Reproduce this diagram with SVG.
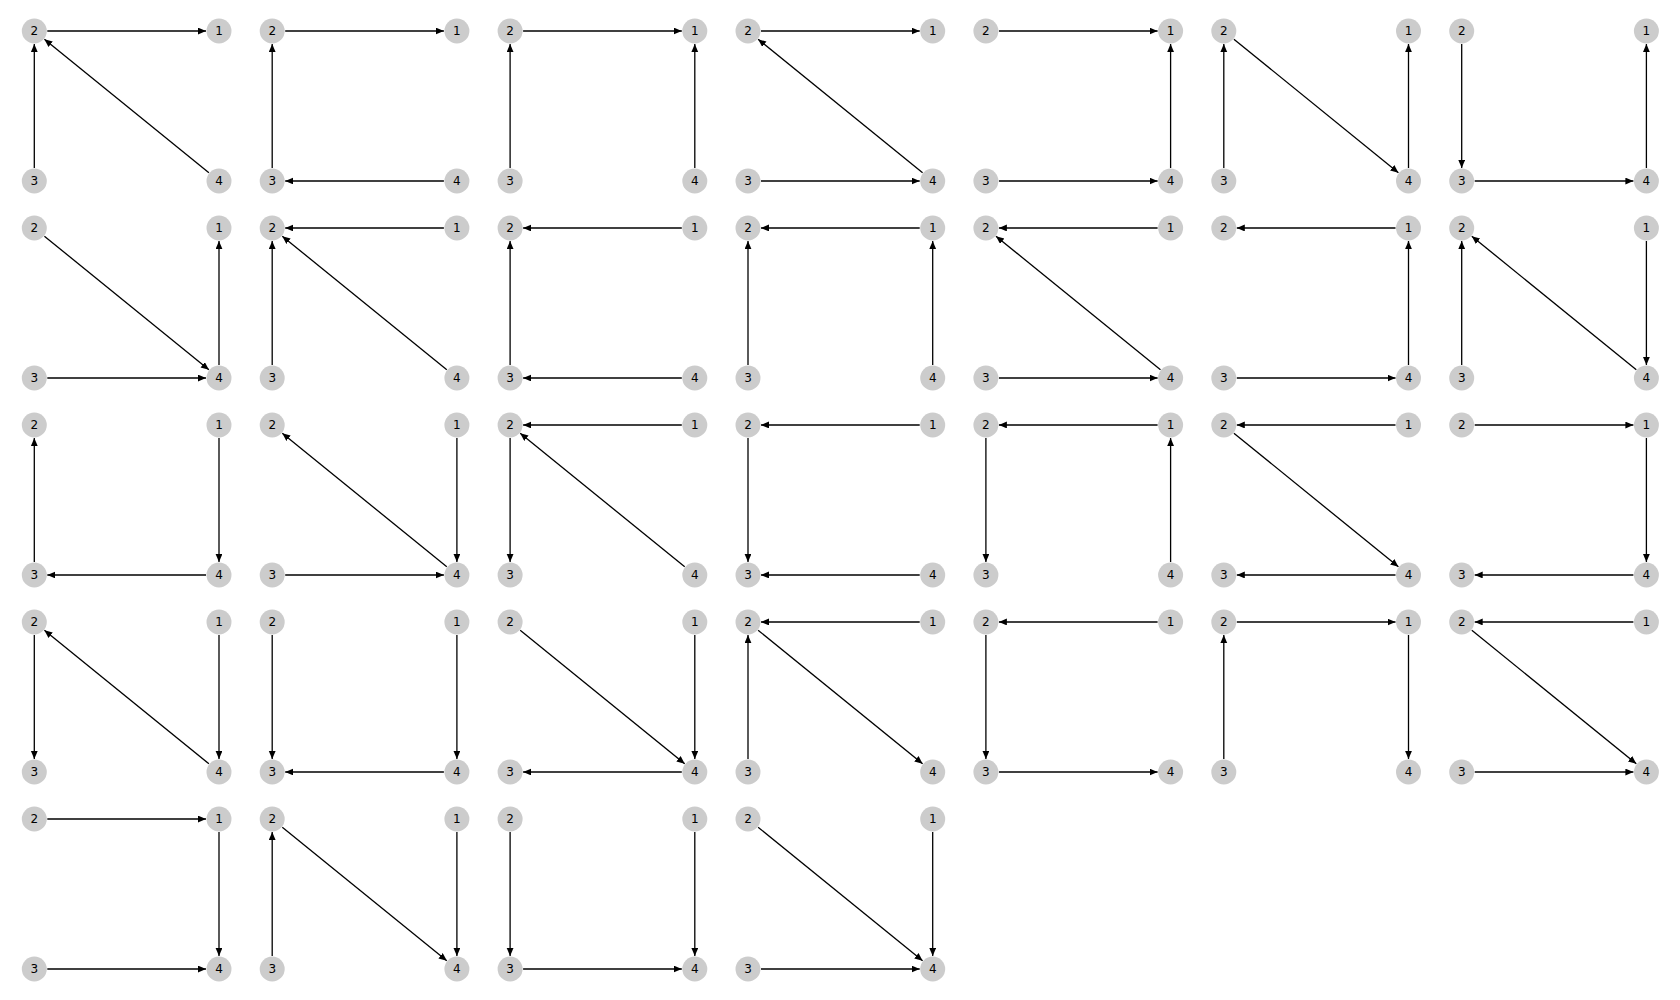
<svg xmlns="http://www.w3.org/2000/svg" width="1680" height="1000" viewBox="0 0 1680 1000">
<style>
.bg{fill:#ffffff}
.n circle{fill:#cccccc;stroke:none}
.n text{font-family:"DejaVu Sans",sans-serif;font-size:12px;fill:#000;text-anchor:middle;dominant-baseline:central}
.e line{stroke:#000;stroke-width:1.3;marker-end:url(#ah)}
</style>
<defs>
<marker id="ah" markerUnits="userSpaceOnUse" markerWidth="9" markerHeight="8" refX="8" refY="3.4" orient="auto">
<path d="M0,0 L8,3.4 L0,6.8 Z" fill="#000"/>
</marker>
</defs>
<rect class="bg" width="1680" height="1000"/>

<g id="panel1" transform="translate(34.3,31)">
<g class="e"><line x1="13" y1="0" x2="171.7" y2="0"/><line x1="0" y1="137" x2="0" y2="13"/><line x1="174.6" y1="141.8" x2="10.1" y2="8.2"/></g>
<g id="p1-n2" class="n"><circle r="12.5"/><text>2</text></g><g id="p1-n1" class="n" transform="translate(184.7,0)"><circle r="12.5"/><text>1</text></g><g id="p1-n3" class="n" transform="translate(0,150)"><circle r="12.5"/><text>3</text></g><g id="p1-n4" class="n" transform="translate(184.7,150)"><circle r="12.5"/><text>4</text></g>
</g>
<g id="panel2" transform="translate(272.2,31)">
<g class="e"><line x1="13" y1="0" x2="171.7" y2="0"/><line x1="0" y1="137" x2="0" y2="13"/><line x1="171.7" y1="150" x2="13" y2="150"/></g>
<g id="p2-n2" class="n"><circle r="12.5"/><text>2</text></g><g id="p2-n1" class="n" transform="translate(184.7,0)"><circle r="12.5"/><text>1</text></g><g id="p2-n3" class="n" transform="translate(0,150)"><circle r="12.5"/><text>3</text></g><g id="p2-n4" class="n" transform="translate(184.7,150)"><circle r="12.5"/><text>4</text></g>
</g>
<g id="panel3" transform="translate(510.1,31)">
<g class="e"><line x1="13" y1="0" x2="171.7" y2="0"/><line x1="0" y1="137" x2="0" y2="13"/><line x1="184.7" y1="137" x2="184.7" y2="13"/></g>
<g id="p3-n2" class="n"><circle r="12.5"/><text>2</text></g><g id="p3-n1" class="n" transform="translate(184.7,0)"><circle r="12.5"/><text>1</text></g><g id="p3-n3" class="n" transform="translate(0,150)"><circle r="12.5"/><text>3</text></g><g id="p3-n4" class="n" transform="translate(184.7,150)"><circle r="12.5"/><text>4</text></g>
</g>
<g id="panel4" transform="translate(748,31)">
<g class="e"><line x1="13" y1="0" x2="171.7" y2="0"/><line x1="174.6" y1="141.8" x2="10.1" y2="8.2"/><line x1="13" y1="150" x2="171.7" y2="150"/></g>
<g id="p4-n2" class="n"><circle r="12.5"/><text>2</text></g><g id="p4-n1" class="n" transform="translate(184.7,0)"><circle r="12.5"/><text>1</text></g><g id="p4-n3" class="n" transform="translate(0,150)"><circle r="12.5"/><text>3</text></g><g id="p4-n4" class="n" transform="translate(184.7,150)"><circle r="12.5"/><text>4</text></g>
</g>
<g id="panel5" transform="translate(985.9,31)">
<g class="e"><line x1="13" y1="0" x2="171.7" y2="0"/><line x1="184.7" y1="137" x2="184.7" y2="13"/><line x1="13" y1="150" x2="171.7" y2="150"/></g>
<g id="p5-n2" class="n"><circle r="12.5"/><text>2</text></g><g id="p5-n1" class="n" transform="translate(184.7,0)"><circle r="12.5"/><text>1</text></g><g id="p5-n3" class="n" transform="translate(0,150)"><circle r="12.5"/><text>3</text></g><g id="p5-n4" class="n" transform="translate(184.7,150)"><circle r="12.5"/><text>4</text></g>
</g>
<g id="panel6" transform="translate(1223.8,31)">
<g class="e"><line x1="0" y1="137" x2="0" y2="13"/><line x1="10.1" y1="8.2" x2="174.6" y2="141.8"/><line x1="184.7" y1="137" x2="184.7" y2="13"/></g>
<g id="p6-n2" class="n"><circle r="12.5"/><text>2</text></g><g id="p6-n1" class="n" transform="translate(184.7,0)"><circle r="12.5"/><text>1</text></g><g id="p6-n3" class="n" transform="translate(0,150)"><circle r="12.5"/><text>3</text></g><g id="p6-n4" class="n" transform="translate(184.7,150)"><circle r="12.5"/><text>4</text></g>
</g>
<g id="panel7" transform="translate(1461.7,31)">
<g class="e"><line x1="0" y1="13" x2="0" y2="137"/><line x1="13" y1="150" x2="171.7" y2="150"/><line x1="184.7" y1="137" x2="184.7" y2="13"/></g>
<g id="p7-n2" class="n"><circle r="12.5"/><text>2</text></g><g id="p7-n1" class="n" transform="translate(184.7,0)"><circle r="12.5"/><text>1</text></g><g id="p7-n3" class="n" transform="translate(0,150)"><circle r="12.5"/><text>3</text></g><g id="p7-n4" class="n" transform="translate(184.7,150)"><circle r="12.5"/><text>4</text></g>
</g>

<g id="panel8" transform="translate(34.3,228)">
<g class="e"><line x1="10.1" y1="8.2" x2="174.6" y2="141.8"/><line x1="13" y1="150" x2="171.7" y2="150"/><line x1="184.7" y1="137" x2="184.7" y2="13"/></g>
<g id="p8-n2" class="n"><circle r="12.5"/><text>2</text></g><g id="p8-n1" class="n" transform="translate(184.7,0)"><circle r="12.5"/><text>1</text></g><g id="p8-n3" class="n" transform="translate(0,150)"><circle r="12.5"/><text>3</text></g><g id="p8-n4" class="n" transform="translate(184.7,150)"><circle r="12.5"/><text>4</text></g>
</g>
<g id="panel9" transform="translate(272.2,228)">
<g class="e"><line x1="171.7" y1="0" x2="13" y2="0"/><line x1="0" y1="137" x2="0" y2="13"/><line x1="174.6" y1="141.8" x2="10.1" y2="8.2"/></g>
<g id="p9-n2" class="n"><circle r="12.5"/><text>2</text></g><g id="p9-n1" class="n" transform="translate(184.7,0)"><circle r="12.5"/><text>1</text></g><g id="p9-n3" class="n" transform="translate(0,150)"><circle r="12.5"/><text>3</text></g><g id="p9-n4" class="n" transform="translate(184.7,150)"><circle r="12.5"/><text>4</text></g>
</g>
<g id="panel10" transform="translate(510.1,228)">
<g class="e"><line x1="171.7" y1="0" x2="13" y2="0"/><line x1="0" y1="137" x2="0" y2="13"/><line x1="171.7" y1="150" x2="13" y2="150"/></g>
<g id="p10-n2" class="n"><circle r="12.5"/><text>2</text></g><g id="p10-n1" class="n" transform="translate(184.7,0)"><circle r="12.5"/><text>1</text></g><g id="p10-n3" class="n" transform="translate(0,150)"><circle r="12.5"/><text>3</text></g><g id="p10-n4" class="n" transform="translate(184.7,150)"><circle r="12.5"/><text>4</text></g>
</g>
<g id="panel11" transform="translate(748,228)">
<g class="e"><line x1="171.7" y1="0" x2="13" y2="0"/><line x1="0" y1="137" x2="0" y2="13"/><line x1="184.7" y1="137" x2="184.7" y2="13"/></g>
<g id="p11-n2" class="n"><circle r="12.5"/><text>2</text></g><g id="p11-n1" class="n" transform="translate(184.7,0)"><circle r="12.5"/><text>1</text></g><g id="p11-n3" class="n" transform="translate(0,150)"><circle r="12.5"/><text>3</text></g><g id="p11-n4" class="n" transform="translate(184.7,150)"><circle r="12.5"/><text>4</text></g>
</g>
<g id="panel12" transform="translate(985.9,228)">
<g class="e"><line x1="171.7" y1="0" x2="13" y2="0"/><line x1="174.6" y1="141.8" x2="10.1" y2="8.2"/><line x1="13" y1="150" x2="171.7" y2="150"/></g>
<g id="p12-n2" class="n"><circle r="12.5"/><text>2</text></g><g id="p12-n1" class="n" transform="translate(184.7,0)"><circle r="12.5"/><text>1</text></g><g id="p12-n3" class="n" transform="translate(0,150)"><circle r="12.5"/><text>3</text></g><g id="p12-n4" class="n" transform="translate(184.7,150)"><circle r="12.5"/><text>4</text></g>
</g>
<g id="panel13" transform="translate(1223.8,228)">
<g class="e"><line x1="171.7" y1="0" x2="13" y2="0"/><line x1="184.7" y1="137" x2="184.7" y2="13"/><line x1="13" y1="150" x2="171.7" y2="150"/></g>
<g id="p13-n2" class="n"><circle r="12.5"/><text>2</text></g><g id="p13-n1" class="n" transform="translate(184.7,0)"><circle r="12.5"/><text>1</text></g><g id="p13-n3" class="n" transform="translate(0,150)"><circle r="12.5"/><text>3</text></g><g id="p13-n4" class="n" transform="translate(184.7,150)"><circle r="12.5"/><text>4</text></g>
</g>
<g id="panel14" transform="translate(1461.7,228)">
<g class="e"><line x1="0" y1="137" x2="0" y2="13"/><line x1="174.6" y1="141.8" x2="10.1" y2="8.2"/><line x1="184.7" y1="13" x2="184.7" y2="137"/></g>
<g id="p14-n2" class="n"><circle r="12.5"/><text>2</text></g><g id="p14-n1" class="n" transform="translate(184.7,0)"><circle r="12.5"/><text>1</text></g><g id="p14-n3" class="n" transform="translate(0,150)"><circle r="12.5"/><text>3</text></g><g id="p14-n4" class="n" transform="translate(184.7,150)"><circle r="12.5"/><text>4</text></g>
</g>

<g id="panel15" transform="translate(34.3,425)">
<g class="e"><line x1="0" y1="137" x2="0" y2="13"/><line x1="184.7" y1="13" x2="184.7" y2="137"/><line x1="171.7" y1="150" x2="13" y2="150"/></g>
<g id="p15-n2" class="n"><circle r="12.5"/><text>2</text></g><g id="p15-n1" class="n" transform="translate(184.7,0)"><circle r="12.5"/><text>1</text></g><g id="p15-n3" class="n" transform="translate(0,150)"><circle r="12.5"/><text>3</text></g><g id="p15-n4" class="n" transform="translate(184.7,150)"><circle r="12.5"/><text>4</text></g>
</g>
<g id="panel16" transform="translate(272.2,425)">
<g class="e"><line x1="174.6" y1="141.8" x2="10.1" y2="8.2"/><line x1="184.7" y1="13" x2="184.7" y2="137"/><line x1="13" y1="150" x2="171.7" y2="150"/></g>
<g id="p16-n2" class="n"><circle r="12.5"/><text>2</text></g><g id="p16-n1" class="n" transform="translate(184.7,0)"><circle r="12.5"/><text>1</text></g><g id="p16-n3" class="n" transform="translate(0,150)"><circle r="12.5"/><text>3</text></g><g id="p16-n4" class="n" transform="translate(184.7,150)"><circle r="12.5"/><text>4</text></g>
</g>
<g id="panel17" transform="translate(510.1,425)">
<g class="e"><line x1="171.7" y1="0" x2="13" y2="0"/><line x1="0" y1="13" x2="0" y2="137"/><line x1="174.6" y1="141.8" x2="10.1" y2="8.2"/></g>
<g id="p17-n2" class="n"><circle r="12.5"/><text>2</text></g><g id="p17-n1" class="n" transform="translate(184.7,0)"><circle r="12.5"/><text>1</text></g><g id="p17-n3" class="n" transform="translate(0,150)"><circle r="12.5"/><text>3</text></g><g id="p17-n4" class="n" transform="translate(184.7,150)"><circle r="12.5"/><text>4</text></g>
</g>
<g id="panel18" transform="translate(748,425)">
<g class="e"><line x1="171.7" y1="0" x2="13" y2="0"/><line x1="0" y1="13" x2="0" y2="137"/><line x1="171.7" y1="150" x2="13" y2="150"/></g>
<g id="p18-n2" class="n"><circle r="12.5"/><text>2</text></g><g id="p18-n1" class="n" transform="translate(184.7,0)"><circle r="12.5"/><text>1</text></g><g id="p18-n3" class="n" transform="translate(0,150)"><circle r="12.5"/><text>3</text></g><g id="p18-n4" class="n" transform="translate(184.7,150)"><circle r="12.5"/><text>4</text></g>
</g>
<g id="panel19" transform="translate(985.9,425)">
<g class="e"><line x1="171.7" y1="0" x2="13" y2="0"/><line x1="0" y1="13" x2="0" y2="137"/><line x1="184.7" y1="137" x2="184.7" y2="13"/></g>
<g id="p19-n2" class="n"><circle r="12.5"/><text>2</text></g><g id="p19-n1" class="n" transform="translate(184.7,0)"><circle r="12.5"/><text>1</text></g><g id="p19-n3" class="n" transform="translate(0,150)"><circle r="12.5"/><text>3</text></g><g id="p19-n4" class="n" transform="translate(184.7,150)"><circle r="12.5"/><text>4</text></g>
</g>
<g id="panel20" transform="translate(1223.8,425)">
<g class="e"><line x1="171.7" y1="0" x2="13" y2="0"/><line x1="10.1" y1="8.2" x2="174.6" y2="141.8"/><line x1="171.7" y1="150" x2="13" y2="150"/></g>
<g id="p20-n2" class="n"><circle r="12.5"/><text>2</text></g><g id="p20-n1" class="n" transform="translate(184.7,0)"><circle r="12.5"/><text>1</text></g><g id="p20-n3" class="n" transform="translate(0,150)"><circle r="12.5"/><text>3</text></g><g id="p20-n4" class="n" transform="translate(184.7,150)"><circle r="12.5"/><text>4</text></g>
</g>
<g id="panel21" transform="translate(1461.7,425)">
<g class="e"><line x1="13" y1="0" x2="171.7" y2="0"/><line x1="184.7" y1="13" x2="184.7" y2="137"/><line x1="171.7" y1="150" x2="13" y2="150"/></g>
<g id="p21-n2" class="n"><circle r="12.5"/><text>2</text></g><g id="p21-n1" class="n" transform="translate(184.7,0)"><circle r="12.5"/><text>1</text></g><g id="p21-n3" class="n" transform="translate(0,150)"><circle r="12.5"/><text>3</text></g><g id="p21-n4" class="n" transform="translate(184.7,150)"><circle r="12.5"/><text>4</text></g>
</g>

<g id="panel22" transform="translate(34.3,622)">
<g class="e"><line x1="0" y1="13" x2="0" y2="137"/><line x1="174.6" y1="141.8" x2="10.1" y2="8.2"/><line x1="184.7" y1="13" x2="184.7" y2="137"/></g>
<g id="p22-n2" class="n"><circle r="12.5"/><text>2</text></g><g id="p22-n1" class="n" transform="translate(184.7,0)"><circle r="12.5"/><text>1</text></g><g id="p22-n3" class="n" transform="translate(0,150)"><circle r="12.5"/><text>3</text></g><g id="p22-n4" class="n" transform="translate(184.7,150)"><circle r="12.5"/><text>4</text></g>
</g>
<g id="panel23" transform="translate(272.2,622)">
<g class="e"><line x1="0" y1="13" x2="0" y2="137"/><line x1="184.7" y1="13" x2="184.7" y2="137"/><line x1="171.7" y1="150" x2="13" y2="150"/></g>
<g id="p23-n2" class="n"><circle r="12.5"/><text>2</text></g><g id="p23-n1" class="n" transform="translate(184.7,0)"><circle r="12.5"/><text>1</text></g><g id="p23-n3" class="n" transform="translate(0,150)"><circle r="12.5"/><text>3</text></g><g id="p23-n4" class="n" transform="translate(184.7,150)"><circle r="12.5"/><text>4</text></g>
</g>
<g id="panel24" transform="translate(510.1,622)">
<g class="e"><line x1="10.1" y1="8.2" x2="174.6" y2="141.8"/><line x1="184.7" y1="13" x2="184.7" y2="137"/><line x1="171.7" y1="150" x2="13" y2="150"/></g>
<g id="p24-n2" class="n"><circle r="12.5"/><text>2</text></g><g id="p24-n1" class="n" transform="translate(184.7,0)"><circle r="12.5"/><text>1</text></g><g id="p24-n3" class="n" transform="translate(0,150)"><circle r="12.5"/><text>3</text></g><g id="p24-n4" class="n" transform="translate(184.7,150)"><circle r="12.5"/><text>4</text></g>
</g>
<g id="panel25" transform="translate(748,622)">
<g class="e"><line x1="171.7" y1="0" x2="13" y2="0"/><line x1="0" y1="137" x2="0" y2="13"/><line x1="10.1" y1="8.2" x2="174.6" y2="141.8"/></g>
<g id="p25-n2" class="n"><circle r="12.5"/><text>2</text></g><g id="p25-n1" class="n" transform="translate(184.7,0)"><circle r="12.5"/><text>1</text></g><g id="p25-n3" class="n" transform="translate(0,150)"><circle r="12.5"/><text>3</text></g><g id="p25-n4" class="n" transform="translate(184.7,150)"><circle r="12.5"/><text>4</text></g>
</g>
<g id="panel26" transform="translate(985.9,622)">
<g class="e"><line x1="171.7" y1="0" x2="13" y2="0"/><line x1="0" y1="13" x2="0" y2="137"/><line x1="13" y1="150" x2="171.7" y2="150"/></g>
<g id="p26-n2" class="n"><circle r="12.5"/><text>2</text></g><g id="p26-n1" class="n" transform="translate(184.7,0)"><circle r="12.5"/><text>1</text></g><g id="p26-n3" class="n" transform="translate(0,150)"><circle r="12.5"/><text>3</text></g><g id="p26-n4" class="n" transform="translate(184.7,150)"><circle r="12.5"/><text>4</text></g>
</g>
<g id="panel27" transform="translate(1223.8,622)">
<g class="e"><line x1="13" y1="0" x2="171.7" y2="0"/><line x1="0" y1="137" x2="0" y2="13"/><line x1="184.7" y1="13" x2="184.7" y2="137"/></g>
<g id="p27-n2" class="n"><circle r="12.5"/><text>2</text></g><g id="p27-n1" class="n" transform="translate(184.7,0)"><circle r="12.5"/><text>1</text></g><g id="p27-n3" class="n" transform="translate(0,150)"><circle r="12.5"/><text>3</text></g><g id="p27-n4" class="n" transform="translate(184.7,150)"><circle r="12.5"/><text>4</text></g>
</g>
<g id="panel28" transform="translate(1461.7,622)">
<g class="e"><line x1="171.7" y1="0" x2="13" y2="0"/><line x1="10.1" y1="8.2" x2="174.6" y2="141.8"/><line x1="13" y1="150" x2="171.7" y2="150"/></g>
<g id="p28-n2" class="n"><circle r="12.5"/><text>2</text></g><g id="p28-n1" class="n" transform="translate(184.7,0)"><circle r="12.5"/><text>1</text></g><g id="p28-n3" class="n" transform="translate(0,150)"><circle r="12.5"/><text>3</text></g><g id="p28-n4" class="n" transform="translate(184.7,150)"><circle r="12.5"/><text>4</text></g>
</g>

<g id="panel29" transform="translate(34.3,819)">
<g class="e"><line x1="13" y1="0" x2="171.7" y2="0"/><line x1="184.7" y1="13" x2="184.7" y2="137"/><line x1="13" y1="150" x2="171.7" y2="150"/></g>
<g id="p29-n2" class="n"><circle r="12.5"/><text>2</text></g><g id="p29-n1" class="n" transform="translate(184.7,0)"><circle r="12.5"/><text>1</text></g><g id="p29-n3" class="n" transform="translate(0,150)"><circle r="12.5"/><text>3</text></g><g id="p29-n4" class="n" transform="translate(184.7,150)"><circle r="12.5"/><text>4</text></g>
</g>
<g id="panel30" transform="translate(272.2,819)">
<g class="e"><line x1="0" y1="137" x2="0" y2="13"/><line x1="10.1" y1="8.2" x2="174.6" y2="141.8"/><line x1="184.7" y1="13" x2="184.7" y2="137"/></g>
<g id="p30-n2" class="n"><circle r="12.5"/><text>2</text></g><g id="p30-n1" class="n" transform="translate(184.7,0)"><circle r="12.5"/><text>1</text></g><g id="p30-n3" class="n" transform="translate(0,150)"><circle r="12.5"/><text>3</text></g><g id="p30-n4" class="n" transform="translate(184.7,150)"><circle r="12.5"/><text>4</text></g>
</g>
<g id="panel31" transform="translate(510.1,819)">
<g class="e"><line x1="0" y1="13" x2="0" y2="137"/><line x1="184.7" y1="13" x2="184.7" y2="137"/><line x1="13" y1="150" x2="171.7" y2="150"/></g>
<g id="p31-n2" class="n"><circle r="12.5"/><text>2</text></g><g id="p31-n1" class="n" transform="translate(184.7,0)"><circle r="12.5"/><text>1</text></g><g id="p31-n3" class="n" transform="translate(0,150)"><circle r="12.5"/><text>3</text></g><g id="p31-n4" class="n" transform="translate(184.7,150)"><circle r="12.5"/><text>4</text></g>
</g>
<g id="panel32" transform="translate(748,819)">
<g class="e"><line x1="10.1" y1="8.2" x2="174.6" y2="141.8"/><line x1="184.7" y1="13" x2="184.7" y2="137"/><line x1="13" y1="150" x2="171.7" y2="150"/></g>
<g id="p32-n2" class="n"><circle r="12.5"/><text>2</text></g><g id="p32-n1" class="n" transform="translate(184.7,0)"><circle r="12.5"/><text>1</text></g><g id="p32-n3" class="n" transform="translate(0,150)"><circle r="12.5"/><text>3</text></g><g id="p32-n4" class="n" transform="translate(184.7,150)"><circle r="12.5"/><text>4</text></g>
</g>
</svg>
